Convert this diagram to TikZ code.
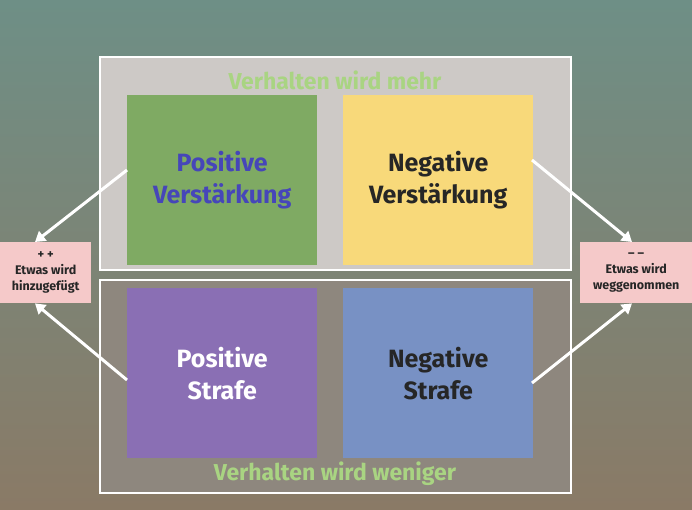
\documentclass[tikz,border=0pt]{standalone}
\usepackage{fontspec}
\setmainfont{Fira Sans}
\usetikzlibrary{arrows.meta}
\definecolor{bgtop}{HTML}{6E8F86}
\definecolor{bgbot}{HTML}{8A7A66}
\definecolor{upper}{HTML}{CDC9C6}
\definecolor{lower}{HTML}{8E877E}
\definecolor{sgreen}{HTML}{7FAA63}
\definecolor{syellow}{HTML}{F8D97A}
\definecolor{spurple}{HTML}{8A6FB4}
\definecolor{sblue}{HTML}{7891C4}
\definecolor{tgreen}{HTML}{A9D482}
\definecolor{pinkbox}{HTML}{F5C9C9}
\tikzset{
 frame/.style={draw=white,line width=2pt},
 card/.style={minimum width=190pt,minimum height=170pt,align=center,font=\fontsize{25}{32}\selectfont\bfseries,anchor=north west,inner sep=0pt},
 side/.style={fill=pinkbox,align=center,font=\fontsize{12.5}{16}\selectfont\bfseries,text=black!85,inner sep=2pt,anchor=north west},
 arr/.style={draw=white,line width=3pt,-{Triangle[length=10pt,width=12pt]}},
 title/.style={text=tgreen,font=\fontsize{23}{26}\selectfont\bfseries}
}
\begin{document}
\begin{tikzpicture}[x=1pt,y=-1pt]
\shade[top color=bgtop,bottom color=bgbot] (0,0) rectangle (692,510);
\useasboundingbox (0,0) rectangle (692,510);
\draw[frame,fill=upper] (100,57) rectangle (571,270);
\draw[frame,fill=lower] (100,280) rectangle (571,493);
\node[title] (t1) at (335,80) {Verhalten wird mehr};
\node[title] (t2) at (335,474) {Verhalten wird weniger};
\node[card,fill=sgreen,text=blue!45!gray] (pv) at (127,95) {Positive\\Verstärkung};
\node[card,fill=syellow,text=black!85] (nv) at (343,95) {Negative\\Verstärkung};
\node[card,fill=spurple,text=white] (ps) at (127,288) {Positive\\Strafe};
\node[card,fill=sblue,text=black!85] (ns) at (343,288) {Negative\\Strafe};
\node[side,minimum width=91pt,minimum height=61pt] (add) at (0,242) {+ +\\Etwas wird\\hinzugefügt};
\node[side,minimum width=112pt,minimum height=61pt] (rem) at (580,242) {– –\\Etwas wird\\weggenommen};
\coordinate (a1) at (127,170); \coordinate (a2) at (127,380);
\coordinate (b1) at (532,160); \coordinate (b2) at (532,383);
\draw[arr] (a1) -- ([xshift=35pt]add.north west);
\draw[arr] (a2) -- ([xshift=35pt]add.south west);
\draw[arr] (b1) -- ([xshift=52pt]rem.north west);
\draw[arr] (b2) -- ([xshift=52pt]rem.south west);
\end{tikzpicture}
\end{document}
